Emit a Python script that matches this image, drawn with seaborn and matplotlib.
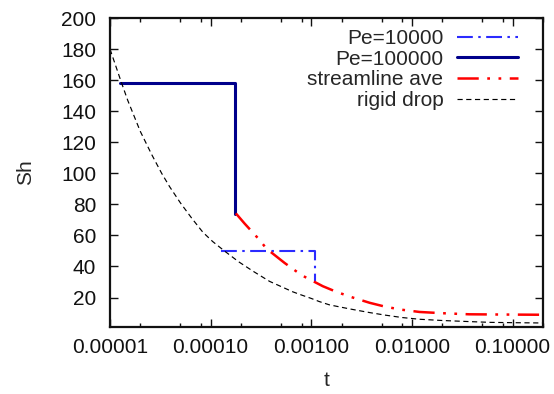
import matplotlib.pyplot as plt
import numpy as np
import pandas as pd
import seaborn as sns
from matplotlib.ticker import LogLocator, FixedLocator, FormatStrFormatter, NullFormatter

sns.set_theme(style='ticks')
plt.rcParams['font.family'] = ['Liberation Sans', 'DejaVu Sans']
plt.rcParams['xtick.direction'] = 'in'
plt.rcParams['ytick.direction'] = 'in'

# values
pe1e4_t = [1.28e-4, 1.08e-3, 1.08e-3]
pe1e4_sh = [50.0, 50.0, 30.7]

pe1e5_t = [1.25e-5, 1.76e-4, 1.76e-4]
pe1e5_sh = [158.4, 158.4, 74.0]

stream_t = [1.78e-4, 2.17e-4, 3.07e-4, 3.57e-4, 5.42e-4, 8.0e-4, 1.3e-3,
            1.8e-3, 2.58e-3, 3.8e-3, 5.5e-3, 8.0e-3, 1.19e-2, 2.0e-2,
            3.7e-2, 0.1, 0.2]
stream_sh = [74.2, 67.7, 57.0, 51.6, 42.3, 34.4, 27.3, 23.5, 20.0, 16.6,
             14.0, 12.1, 10.7, 9.9, 9.2, 9.0, 8.9]

rigid_t = [1.0e-5, 1.29e-5, 1.5e-5, 2.0e-5, 2.6e-5, 3.26e-5, 3.91e-5, 5.0e-5,
           6.5e-5, 8.38e-5, 1.05e-4, 1.37e-4, 1.9e-4, 2.63e-4, 3.85e-4,
           5.2e-4, 6.53e-4, 8.0e-4, 1.0e-3, 1.2e-3, 1.51e-3, 2.0e-3, 2.58e-3,
           3.8e-3, 5.5e-3, 8.0e-3, 1.19e-2, 2.0e-2, 3.7e-2, 6.0e-2, 0.1, 0.2]
rigid_sh = [180.0, 159.0, 147.0, 127.0, 112.0, 100.0, 91.4, 81.0, 71.0, 62.0,
            56.0, 50.0, 43.0, 37.0, 30.4, 26.6, 23.7, 21.6, 19.4, 17.4, 15.3,
            13.7, 12.3, 10.3, 8.6, 7.1, 6.0, 5.2, 4.5, 4.0, 3.8, 3.6]

fig = plt.figure(figsize=(5.54, 3.94), dpi=100)
ax = fig.add_axes([0.1986, 0.170, 0.7814, 0.784])

series = [
    ('Pe=10000', pe1e4_t, pe1e4_sh, '#2b2bff', 1.5, (0, (7.6, 2.6, 1.2, 2.6))),
    ('Pe=100000', pe1e5_t, pe1e5_sh, '#00008b', 2.2, '-'),
    ('streamline ave', stream_t, stream_sh, '#ff0000', 1.8, (0, (8.5, 3.4, 1.1, 3.4, 1.1, 3.4))),
    ('rigid drop', rigid_t, rigid_sh, '#000000', 0.85, (0, (4.4, 3.0))),
]
for name, t, sh, col, lw, ls in series:
    df = pd.DataFrame({'t': t, 'Sh': sh})
    sns.lineplot(data=df, x='t', y='Sh', ax=ax, color=col, linewidth=lw,
                 linestyle=ls, estimator=None, sort=False, label=name)

ax.set_xscale('log')
ax.set_xlim(1e-5, 0.2)
ax.set_ylim(1, 200)
ax.xaxis.set_major_locator(FixedLocator([1e-5, 1e-4, 1e-3, 1e-2, 1e-1]))
ax.xaxis.set_major_formatter(FormatStrFormatter('%.5f'))
ax.xaxis.set_minor_locator(LogLocator(base=10, subs=(2, 5, 8)))
ax.xaxis.set_minor_formatter(NullFormatter())
ax.yaxis.set_major_locator(FixedLocator(np.arange(20, 201, 20)))

ax.tick_params(which='both', top=True, right=True, labelsize=15, colors='#111111')
ax.tick_params(which='major', length=6, width=1)
ax.tick_params(which='minor', length=3, width=1)
ax.tick_params(axis='y', pad=10)
ax.tick_params(axis='x', pad=8)
for sp in ax.spines.values():
    sp.set_linewidth(1.6)
    sp.set_color('#111111')

ax.set_xlabel('t', fontsize=15, labelpad=10)
ax.set_ylabel('Sh', fontsize=15, labelpad=19)

ax.legend(loc='upper right', bbox_to_anchor=(0.942, 0.965), frameon=False,
          markerfirst=False, fontsize=15, handlelength=2.9, handletextpad=0.67,
          labelspacing=0.08, borderaxespad=0, borderpad=0)

fig.savefig('out.png', dpi=100)
